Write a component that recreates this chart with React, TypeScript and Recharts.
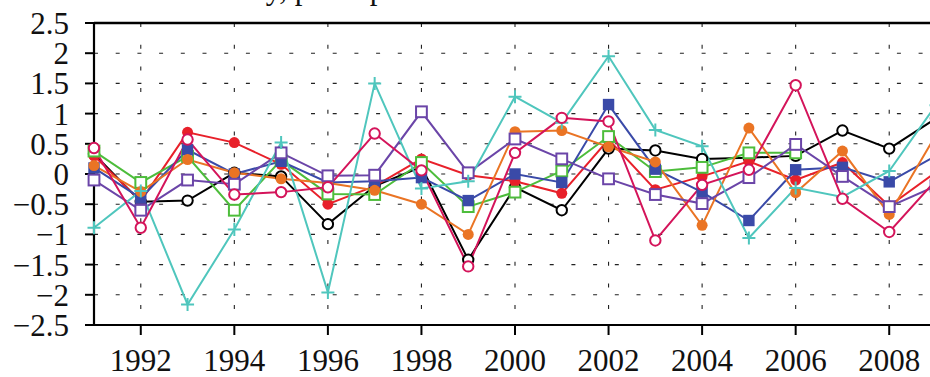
import { CartesianGrid, Line, LineChart, ReferenceLine, XAxis, YAxis } from "recharts"

const years = [
  1991, 1992, 1993, 1994, 1995, 1996, 1997, 1998, 1999, 2000, 2001, 2002, 2003, 2004, 2005, 2006, 2007,
  2008, 2009,
]

const blackSeries = [0.33, -0.46, -0.44, 0.02, -0.04, -0.83, -0.2, 0.12, -1.42, -0.22, -0.6, 0.42, 0.39, 0.25, 0.27, 0.3, 0.72, 0.42, 0.92]
const redSeries = [0.3, -0.45, 0.69, 0.52, 0.16, -0.5, -0.2, 0.25, -0.02, -0.12, -0.32, 0.57, -0.26, -0.04, 0.21, -0.1, 0.19, -0.53, 0.03]
const greenSeries = [0.38, -0.14, 0.29, -0.6, 0.23, -0.33, -0.34, 0.19, -0.54, -0.3, 0.05, 0.62, 0.04, 0.11, 0.35, 0.35, null, null, null]
const blueSeries = [0.1, -0.4, 0.4, 0.0, 0.21, -0.14, -0.12, -0.06, -0.44, 0.0, -0.14, 1.15, 0.08, -0.3, -0.77, 0.07, 0.11, -0.13, 0.3]
const orangeSeries = [0.14, -0.29, 0.24, 0.02, -0.08, -0.15, -0.27, -0.5, -1.0, 0.7, 0.72, 0.45, 0.2, -0.85, 0.76, -0.31, 0.38, -0.67, 0.65]
const purpleSeries = [-0.1, -0.6, -0.1, -0.17, 0.35, -0.03, -0.02, 1.03, 0.02, 0.58, 0.25, -0.08, -0.34, -0.49, -0.06, 0.49, -0.04, -0.54, -0.2]
const tealSeries = [-0.89, -0.28, -2.16, -0.92, 0.52, -1.96, 1.5, -0.24, -0.12, 1.28, 0.85, 1.95, 0.73, 0.46, -1.06, -0.23, -0.38, 0.05, 1.14]
const crimsonSeries = [0.43, -0.89, 0.57, -0.34, -0.3, -0.22, 0.67, 0.06, -1.53, 0.35, 0.93, 0.87, -1.1, -0.18, 0.07, 1.47, -0.41, -0.96, -0.1]

const xTicks = [1992, 1994, 1996, 1998, 2000, 2002, 2004, 2006, 2008]
const yTicks = [-2.5, -2, -1.5, -1, -0.5, 0, 0.5, 1, 1.5, 2, 2.5]

const titleText = "Anomaly, per capita"

type Marker = "openCircle" | "dot" | "openSquare" | "square" | "plus"

const series: { key: string; values: (number | null)[]; color: string; marker: Marker }[] = [
  { key: "black", values: blackSeries, color: "#000000", marker: "openCircle" },
  { key: "red", values: redSeries, color: "#e8202a", marker: "dot" },
  { key: "green", values: greenSeries, color: "#4dbd3b", marker: "openSquare" },
  { key: "blue", values: blueSeries, color: "#3a4aa8", marker: "square" },
  { key: "orange", values: orangeSeries, color: "#ea7424", marker: "dot" },
  { key: "purple", values: purpleSeries, color: "#6b45a8", marker: "openSquare" },
  { key: "teal", values: tealSeries, color: "#4fc6bd", marker: "plus" },
  { key: "crimson", values: crimsonSeries, color: "#d4145a", marker: "openCircle" },
]

const data = years.map((year, i) => {
  const row: Record<string, number | null> = { year }
  series.forEach((s) => {
    row[s.key] = s.values[i]
  })
  return row
})

const serif = '"Liberation Serif", "Times New Roman", serif'

function makeDot(marker: Marker, color: string) {
  return (props: any) => {
    const { cx, cy, index, value } = props
    const k = `d-${index}`
    if (cx == null || cy == null || value == null || Number.isNaN(cy)) return <g key={k} />
    switch (marker) {
      case "openCircle":
        return <circle key={k} cx={cx} cy={cy} r={5.2} fill="#fff" stroke={color} strokeWidth={2} />
      case "dot":
        return <circle key={k} cx={cx} cy={cy} r={5.5} fill={color} stroke="none" />
      case "openSquare":
        return <rect key={k} x={cx - 5.4} y={cy - 5.4} width={10.8} height={10.8} fill="#fff" stroke={color} strokeWidth={2} />
      case "square":
        return <rect key={k} x={cx - 5.7} y={cy - 5.7} width={11.4} height={11.4} fill={color} stroke="none" />
      default:
        return (
          <path
            key={k}
            d={`M${cx - 6.5},${cy}H${cx + 6.5}M${cx},${cy - 6.5}V${cy + 6.5}`}
            stroke={color}
            strokeWidth={2}
            fill="none"
          />
        )
    }
  }
}

const fmtY = (v: number) => String(v).replace("-", "\u2212")

export default function App() {
  return (
    <div
      style={{
        position: "absolute",
        left: 0,
        top: 0,
        width: 930,
        height: 377,
        overflow: "hidden",
        background: "#fff",
      }}
    >
      <div
        style={{
          position: "absolute",
          left: 166,
          top: -27,
          fontFamily: serif,
          fontSize: 31,
          lineHeight: "31px",
          color: "#111",
          whiteSpace: "nowrap",
        }}
      >
        {titleText}
      </div>
      <LineChart width={960} height={377} data={data} margin={{ top: 23, right: 24, bottom: 0, left: 0 }}>
        <CartesianGrid stroke="#222" strokeWidth={1.1} strokeDasharray="4 17.7" />
        <XAxis
          dataKey="year"
          type="number"
          domain={[1991, 2009]}
          ticks={xTicks}
          interval={0}
          height={52}
          tickSize={10}
          tickMargin={14}
          axisLine={{ stroke: "#000", strokeWidth: 2 }}
          tickLine={{ stroke: "#000", strokeWidth: 2 }}
          tick={{ fill: "#111", fontSize: 31, fontFamily: serif }}
        />
        <YAxis
          type="number"
          domain={[-2.5, 2.5]}
          ticks={yTicks}
          interval={0}
          width={94}
          tickSize={9}
          tickMargin={16}
          tickFormatter={fmtY}
          axisLine={{ stroke: "#000", strokeWidth: 2.2 }}
          tickLine={{ stroke: "#000", strokeWidth: 2 }}
          tick={{ fill: "#111", fontSize: 31, fontFamily: serif }}
        />
        <ReferenceLine y={2.5} stroke="#000" strokeWidth={2.6} />
        {series.map((s) => (
          <Line
            key={s.key}
            dataKey={s.key}
            type="linear"
            stroke={s.color}
            strokeWidth={2}
            dot={makeDot(s.marker, s.color)}
            activeDot={false}
            connectNulls={false}
            isAnimationActive={false}
          />
        ))}
      </LineChart>
    </div>
  )
}
